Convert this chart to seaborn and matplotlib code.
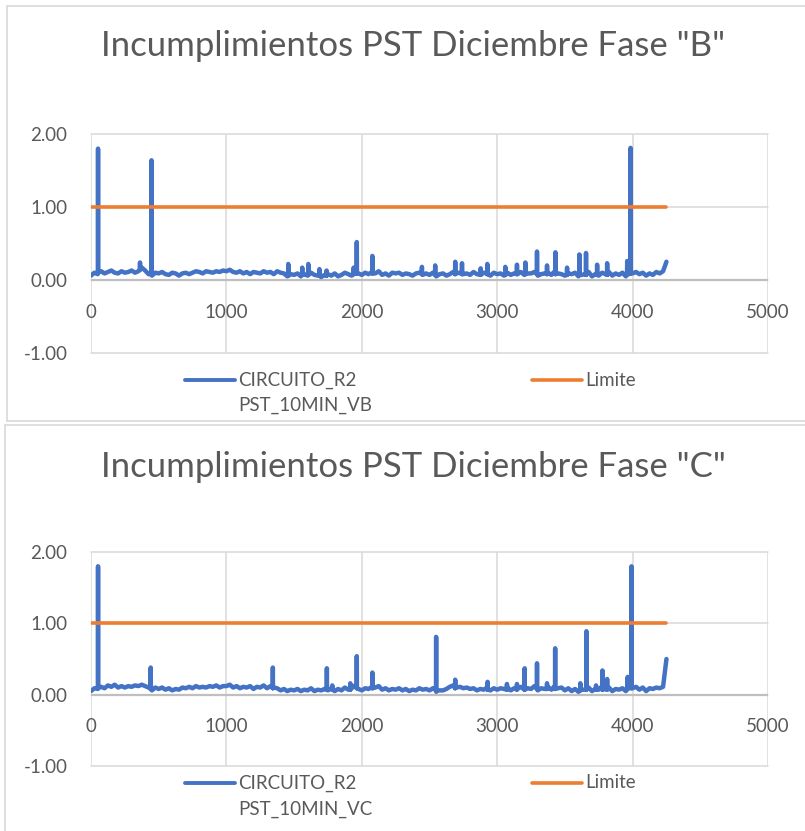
import numpy as np
import pandas as pd
import seaborn as sns
import matplotlib.pyplot as plt
from matplotlib.lines import Line2D

# ---------------- data ----------------
base_x = list(range(0, 4251, 25))

base_b = [
    0.06, 0.10, 0.08, 0.12, 0.09, 0.11, 0.13, 0.10, 0.09, 0.12,
    0.10, 0.11, 0.13, 0.10, 0.12, 0.17, 0.13, 0.08, 0.06, 0.10,
    0.09, 0.11, 0.08, 0.07, 0.10, 0.09, 0.06, 0.09, 0.10, 0.08,
    0.10, 0.12, 0.11, 0.09, 0.12, 0.11, 0.10, 0.12, 0.11, 0.13,
    0.12, 0.14, 0.11, 0.10, 0.12, 0.09, 0.11, 0.08, 0.11, 0.10,
    0.09, 0.12, 0.10, 0.11, 0.08, 0.12, 0.10, 0.09, 0.05, 0.08,
    0.07, 0.09, 0.05, 0.08, 0.06, 0.10, 0.07, 0.06, 0.04, 0.07,
    0.08, 0.06, 0.09, 0.05, 0.07, 0.10, 0.08, 0.06, 0.12, 0.09,
    0.07, 0.10, 0.08, 0.11, 0.09, 0.12, 0.07, 0.09, 0.06, 0.10,
    0.09, 0.10, 0.07, 0.09, 0.08, 0.06, 0.09, 0.10, 0.07, 0.09,
    0.07, 0.10, 0.05, 0.08, 0.09, 0.06, 0.08, 0.11, 0.09, 0.10,
    0.08, 0.09, 0.07, 0.11, 0.08, 0.07, 0.10, 0.09, 0.06, 0.10,
    0.08, 0.09, 0.06, 0.10, 0.07, 0.09, 0.08, 0.11, 0.07, 0.09,
    0.09, 0.11, 0.06, 0.08, 0.09, 0.10, 0.07, 0.12, 0.09, 0.08,
    0.06, 0.09, 0.08, 0.10, 0.05, 0.07, 0.08, 0.11, 0.05, 0.08,
    0.06, 0.10, 0.08, 0.11, 0.06, 0.09, 0.07, 0.10, 0.05, 0.08,
    0.09, 0.11, 0.08, 0.10, 0.06, 0.09, 0.07, 0.11, 0.09, 0.12,
    0.25,
]

base_c = [
    0.05, 0.09, 0.08, 0.11, 0.09, 0.13, 0.11, 0.14, 0.10, 0.12,
    0.10, 0.12, 0.11, 0.13, 0.12, 0.14, 0.12, 0.10, 0.06, 0.10,
    0.08, 0.10, 0.07, 0.09, 0.06, 0.08, 0.07, 0.10, 0.09, 0.11,
    0.09, 0.12, 0.10, 0.11, 0.10, 0.12, 0.11, 0.13, 0.10, 0.12,
    0.12, 0.14, 0.10, 0.12, 0.09, 0.11, 0.10, 0.12, 0.08, 0.11,
    0.10, 0.13, 0.09, 0.12, 0.10, 0.09, 0.06, 0.08, 0.05, 0.07,
    0.06, 0.08, 0.05, 0.07, 0.06, 0.09, 0.05, 0.07, 0.06, 0.08,
    0.06, 0.09, 0.05, 0.08, 0.06, 0.10, 0.07, 0.09, 0.13, 0.08,
    0.06, 0.09, 0.08, 0.11, 0.10, 0.12, 0.07, 0.09, 0.06, 0.08,
    0.07, 0.09, 0.06, 0.08, 0.05, 0.07, 0.06, 0.09, 0.07, 0.08,
    0.06, 0.09, 0.04, 0.06, 0.06, 0.08, 0.11, 0.13, 0.10, 0.11,
    0.09, 0.10, 0.08, 0.09, 0.06, 0.08, 0.07, 0.10, 0.06, 0.09,
    0.07, 0.09, 0.08, 0.10, 0.06, 0.09, 0.08, 0.11, 0.07, 0.09,
    0.08, 0.12, 0.06, 0.09, 0.08, 0.11, 0.07, 0.12, 0.09, 0.10,
    0.06, 0.09, 0.05, 0.08, 0.04, 0.07, 0.07, 0.10, 0.05, 0.08,
    0.07, 0.12, 0.08, 0.10, 0.05, 0.08, 0.07, 0.09, 0.05, 0.10,
    0.09, 0.11, 0.07, 0.10, 0.05, 0.09, 0.08, 0.10, 0.09, 0.11,
    0.50,
]

# single-sample spikes: position, peak value, and the baseline value either side
spike_x_b = [52, 362, 447, 1457, 1560, 1605, 1687, 1740, 1940, 1963, 2078,
             2444, 2542, 2690, 2740, 2878, 2927, 3060, 3146, 3208, 3294,
             3368, 3430, 3516, 3607, 3656, 3738, 3812, 3960, 3985]
spike_y_b = [1.80, 0.24, 1.64, 0.22, 0.17, 0.22, 0.15, 0.13, 0.17, 0.52, 0.33,
             0.18, 0.20, 0.25, 0.23, 0.16, 0.22, 0.18, 0.21, 0.24, 0.39,
             0.20, 0.38, 0.17, 0.35, 0.37, 0.21, 0.23, 0.26, 1.81]
spike_foot_b = [0.10, 0.14, 0.08, 0.06, 0.07, 0.07, 0.06, 0.06, 0.08, 0.09, 0.09,
                0.08, 0.07, 0.08, 0.08, 0.07, 0.08, 0.07, 0.08, 0.08, 0.08,
                0.08, 0.08, 0.07, 0.07, 0.07, 0.07, 0.07, 0.08, 0.09]

spike_x_c = [52, 441, 1343, 1742, 1782, 1915, 1963, 2078, 2549, 2690, 2929,
             3072, 3146, 3203, 3294, 3368, 3428, 3614, 3659, 3730, 3777,
             3812, 3964, 3992]
spike_y_c = [1.80, 0.38, 0.38, 0.37, 0.13, 0.16, 0.54, 0.31, 0.81, 0.21, 0.18,
             0.15, 0.15, 0.37, 0.44, 0.16, 0.65, 0.16, 0.89, 0.13, 0.34,
             0.22, 0.25, 1.80]
spike_foot_c = [0.09, 0.08, 0.09, 0.07, 0.07, 0.07, 0.09, 0.09, 0.06, 0.09, 0.07,
                0.07, 0.07, 0.07, 0.08, 0.08, 0.08, 0.06, 0.07, 0.07, 0.07,
                0.07, 0.08, 0.09]

limit_x = [1, 4250]
limit_y = [1.0, 1.0]

titles = ['Incumplimientos PST Diciembre Fase "B"',
          'Incumplimientos PST Diciembre Fase "C"']
series_names = ['CIRCUITO_R2\nPST_10MIN_VB', 'CIRCUITO_R2\nPST_10MIN_VC']
limit_name = 'Limite'
x_ticks = [0, 1000, 2000, 3000, 4000, 5000]
y_ticks = [-1.0, 0.0, 1.0, 2.0]

# ---------------- style ----------------
BLUE = '#4472C4'
ORANGE = '#ED7D31'
GRID = '#D9D9D9'
AXIS = '#BFBFBF'
TXT = '#595959'

sns.set_theme(style='white')
plt.rcParams['font.family'] = ['Lato', 'DejaVu Sans']

W, H = 805, 831
fig = plt.figure(figsize=(W / 100, H / 100), dpi=100)


def fx(px):
    return px / W


def fy(py):
    return 1 - py / H


panels = [
    dict(base=base_b, sx=spike_x_b, sy=spike_y_b, sf=spike_foot_b, top=134, bot=353,
         title_y=46, leg_y=380, leg2_y=405, name=series_names[0], title=titles[0]),
    dict(base=base_c, sx=spike_x_c, sy=spike_y_c, sf=spike_foot_c, top=552, bot=766,
         title_y=467, leg_y=783, leg2_y=809, name=series_names[1], title=titles[1]),
]

for p in panels:
    ax = fig.add_axes([fx(91), fy(p['bot']), fx(768) - fx(91), fy(p['top']) - fy(p['bot'])])
    xs = list(base_x) + list(p['sx'])
    ys = list(p['base']) + list(p['sy'])
    # neighbouring samples of each spike (previous / next sample index)
    xs += [x - 1 for x in p['sx']] + [x + 1 for x in p['sx']]
    ys += list(p['sf']) + list(p['sf'])
    df = pd.DataFrame({'x': xs, 'y': ys})
    sns.lineplot(data=df, x='x', y='y', color=BLUE, lw=3.2, estimator=None,
                 sort=True, ax=ax, legend=False, solid_joinstyle='round',
                 solid_capstyle='round', zorder=3)
    lim = pd.DataFrame({'x': limit_x, 'y': limit_y})
    sns.lineplot(data=lim, x='x', y='y', color=ORANGE, lw=2.6, estimator=None,
                 ax=ax, legend=False, zorder=4)
    ax.set_xlim(0, 5000)
    ax.set_ylim(-1, 2)
    ax.set_xticks(x_ticks)
    ax.set_xticklabels([f'{v:d}' for v in x_ticks])
    ax.set_yticks(y_ticks)
    ax.set_yticklabels([f'{v:.2f}' for v in y_ticks])
    ax.set_xlabel('')
    ax.set_ylabel('')
    ax.grid(True, color=GRID, lw=1.1)
    for ln in ax.get_xgridlines() + ax.get_ygridlines():
        ln.set_clip_on(False)
    for s in ax.spines.values():
        s.set_visible(False)
    ax.axhline(0, color=AXIS, lw=1.6, zorder=2)
    ax.tick_params(axis='x', length=0, pad=17, labelsize=13.5, labelcolor=TXT)
    ax.tick_params(axis='y', length=0, pad=17, labelsize=13.5, labelcolor=TXT)
    ax.xaxis.set_ticks_position('bottom')
    ax.spines['bottom'].set_position(('data', 0))
    ax.set_facecolor('none')

    fig.text(fx(413), fy(p['title_y']), p['title'], ha='center', va='center',
             fontsize=25, color=TXT, fontweight='normal')

    # legend
    fig.add_artist(Line2D([fx(185), fx(235)], [fy(p['leg_y'])] * 2, color=BLUE, lw=2.8))
    n1, n2 = p['name'].split('\n')
    fig.text(fx(238), fy(p['leg_y']), n1, ha='left', va='center', fontsize=13.5, color=TXT)
    fig.text(fx(238), fy(p['leg2_y']), n2, ha='left', va='center', fontsize=13.5, color=TXT)
    fig.add_artist(Line2D([fx(532), fx(582)], [fy(p['leg_y'])] * 2, color=ORANGE, lw=2.6))
    fig.text(fx(585), fy(p['leg_y']), limit_name, ha='left', va='center', fontsize=13.5, color=TXT)

# chart borders
fig.add_artist(Line2D([fx(7), fx(805)], [fy(6), fy(6)], color=GRID, lw=1.2))
fig.add_artist(Line2D([fx(7), fx(7)], [fy(6), fy(421)], color=GRID, lw=1.2))
fig.add_artist(Line2D([fx(7), fx(805)], [fy(421), fy(421)], color=GRID, lw=1.2))
fig.add_artist(Line2D([fx(5), fx(805)], [fy(425), fy(425)], color=GRID, lw=1.2))
fig.add_artist(Line2D([fx(5), fx(5)], [fy(425), fy(831)], color=GRID, lw=1.2))

fig.savefig('out.png', dpi=100, facecolor='white')
